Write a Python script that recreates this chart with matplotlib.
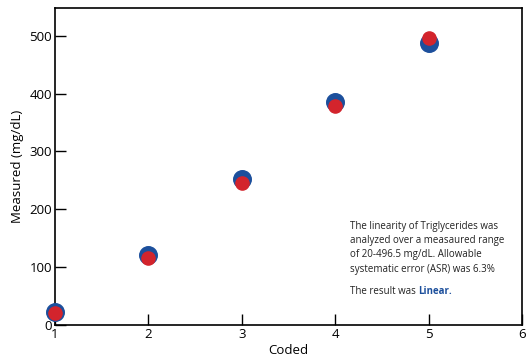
import matplotlib
matplotlib.use("Agg")
import matplotlib.pyplot as plt

plt.rcParams["font.family"] = ["Open Sans", "DejaVu Sans"]

# Data.
coded = [1, 2, 3, 4, 5]
measured_blue = [22, 121, 253, 386, 488]
measured_red = [21, 115, 246, 378, 497]

blue = "#1c4f9c"
red = "#d3242c"

fig = plt.figure(figsize=(5.26, 3.6), dpi=100)
ax = fig.add_axes([55 / 526, 35 / 360, 467 / 526, 317 / 360])

ax.scatter(coded, measured_blue, s=160, color=blue, zorder=3, clip_on=False)
ax.scatter(coded, measured_red, s=90, color=red, zorder=4, clip_on=False)

ax.set_xlim(1, 6)
ax.set_ylim(0, 548)
ax.set_xticks([1, 2, 3, 4, 5, 6])
ax.set_yticks([0, 100, 200, 300, 400, 500])
ax.tick_params(direction="in", length=8, width=1, labelsize=9.5, pad=2)
for s in ax.spines.values():
    s.set_linewidth(1.2)

ax.set_xlabel("Coded", fontsize=9.5, labelpad=2.5)
ax.set_ylabel("Measured (mg/dL)", fontsize=9.5, labelpad=4)

note = (
    "The linearity of Triglycerides was\n"
    "analyzed over a measaured range\n"
    "of 20-496.5 mg/dL. Allowable\n"
    "systematic error (ASR) was 6.3%"
)
fig.text(350 / 526, 1 - 221 / 360, note, fontsize=7, va="top",
         linespacing=1.4, color="#222222")
t = fig.text(350 / 526, 1 - 294 / 360, "The result was ", fontsize=7,
             va="baseline", color="#222222")
ax.annotate("Linear.", xy=(1, 0), xycoords=t, va="bottom", fontsize=7,
            fontweight="bold", color=blue)

fig.savefig("out.png", dpi=100)
